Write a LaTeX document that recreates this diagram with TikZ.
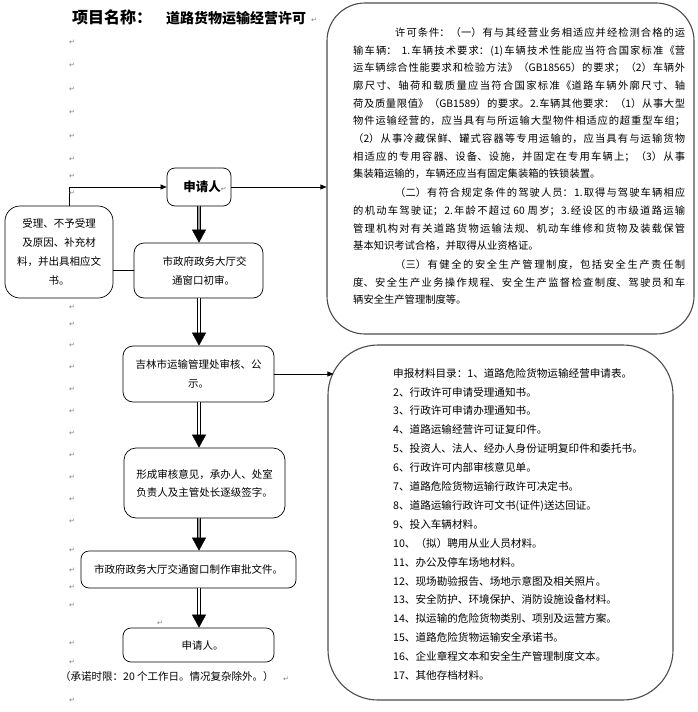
\documentclass[tikz,border=0pt]{standalone}
\usepackage{fontspec}
\usetikzlibrary{arrows.meta,calc}
\newfontfamily\cjk{Noto Sans CJK SC}
\newfontfamily\symf{DejaVu Sans}
\XeTeXlinebreaklocale "zh"
\XeTeXlinebreakskip=0pt plus 3pt
\begin{document}
\begin{tikzpicture}[x=1pt,y=-1pt,
  box/.style={draw=black, line width=0.7pt, rounded corners=8pt, align=center,
    font=\cjk\fontsize{10.5}{19}\selectfont, inner sep=0pt},
  bigbox/.style={draw=black!70, line width=1.1pt, inner sep=0pt},
  arr/.style={line width=0.6pt, -{Triangle[length=6pt,width=5pt]}},
  plainline/.style={line width=0.6pt},
  shaft/.style={draw=black, line width=0.9pt, double=white, double distance=2.8pt},
  grayshaft/.style={shaft, double=black!40},
  bighead/.style={line width=0.4pt, fill=black, -{Triangle[length=13pt,width=14pt]}},
  pm/.style={font=\symf\fontsize{7}{7}\selectfont, text=black!50, inner sep=0pt}]
\fill[white] (0,0) rectangle (697,712);
\useasboundingbox (0,0) rectangle (697,712);
\coordinate (colx) at (199,0);

% title
\node[anchor=west, inner sep=0pt, font=\cjk\bfseries\fontsize{16}{16}\selectfont] (t1) at (72,17) {项目名称：};
\node[anchor=west, inner sep=0pt, font=\cjk\bfseries\fontsize{14}{14}\selectfont] (t2) at (166,18) {道路货物运输经营许可};
\node[pm] (pmt) at (314,20) {↵};

% big boxes
\node[bigbox, rounded corners=38pt, minimum width=367pt, minimum height=331pt] (top) at (510.5,168.5) {};
\node[bigbox, rounded corners=50pt, minimum width=345pt, minimum height=355pt] (low) at (500.5,522.5) {};

\node[anchor=north west, inner sep=0pt, text width=332pt, align=justify,
      font=\cjk\fontsize{10.3}{17.7}\selectfont] (toptext) at (353,27.3) {\setlength{\parskip}{1pt}%
\hspace*{42pt}许可条件：（一）有与其经营业务相适应并经检测合格的运\linebreak
输车辆：\hspace{5pt}1.车辆技术要求：(1)车辆技术性能应当符合国家标准《营\linebreak
运车辆综合性能要求和检验方法》（GB18565）的要求；（2）车辆外\linebreak
廓尺寸、轴荷和载质量应当符合国家标准《道路车辆外廓尺寸、轴\linebreak
荷及质量限值》（GB1589）的要求。2.车辆其他要求：（1）从事大型\linebreak
物件运输经营的，应当具有与所运输大型物件相适应的超重型车组；\linebreak
（2）从事冷藏保鲜、罐式容器等专用运输的，应当具有与运输货物\linebreak
相适应的专用容器、设备、设施，并固定在专用车辆上；（3）从事\linebreak
集装箱运输的，车辆还应当有固定集装箱的铁锁装置。\par
\hspace*{42pt}（二）有符合规定条件的驾驶人员：1.取得与驾驶车辆相应\linebreak
的机动车驾驶证；2.年龄不超过 60 周岁；3.经设区的市级道路运输\linebreak
管理机构对有关道路货物运输法规、机动车维修和货物及装载保管\linebreak
基本知识考试合格，并取得从业资格证。\par
\hspace*{42pt}（三）有健全的安全生产管理制度，包括安全生产责任制\linebreak
度、安全生产业务操作规程、安全生产监督检查制度、驾驶员和车\linebreak
辆安全生产管理制度等。};

\node[anchor=north west, inner sep=0pt, align=left,
      font=\cjk\fontsize{10.6}{18.9}\selectfont] (list) at (393,368) {%
申报材料目录：1、道路危险货物运输经营申请表。\\
2、行政许可申请受理通知书。\\
3、行政许可申请办理通知书。\\
4、道路运输经营许可证复印件。\\
5、投资人、法人、经办人身份证明复印件和委托书。\\
6、行政许可内部审核意见单。\\
7、道路危险货物运输行政许可决定书。\\
8、道路运输行政许可文书(证件)送达回证。\\
9、投入车辆材料。\\
10、（拟）聘用从业人员材料。\\
11、办公及停车场地材料。\\
12、现场勘验报告、场地示意图及相关照片。\\
13、安全防护、环境保护、消防设施设备材料。\\
14、拟运输的危险货物类别、项别及运营方案。\\
15、道路危险货物运输安全承诺书。\\
16、企业章程文本和安全生产管理制度文本。\\
17、其他存档材料。};

% flow boxes
\node[box, minimum width=64pt, minimum height=38pt] (s1) at (199,187)
  {\hspace*{12pt}{\bfseries\fontsize{12.5}{14}\selectfont 申请人}{\symf\fontsize{7}{7}\selectfont\color{black!50}↵}};
\node[box, rounded corners=15pt, minimum width=108pt, minimum height=92pt] (lb) at (59,252)
  {受理、不予受理\\及原因、补充材\\料，并出具相应文\\书。};
\node[box, rounded corners=10pt, minimum width=129pt, minimum height=55pt] (cs) at (198.5,270.5)
  {\hspace*{12pt}市政府政务大厅交\\\hspace*{10pt}通窗口初审。};
\node[box, rounded corners=10pt, minimum width=151pt, minimum height=56pt] (jl) at (198.5,374)
  {吉林市运输管理处审核、公\\示。};
\node[box, rounded corners=12pt, minimum width=161pt, minimum height=70pt, font=\cjk\fontsize{10.5}{18}\selectfont] (xc) at (204.5,483)
  {形成审核意见，承办人、处室\\负责人及主管处长逐级签字。};
\node[box, rounded corners=8pt, minimum width=215pt, minimum height=37pt] (zz) at (188.5,569.5)
  {市政府政务大厅交通窗口制作审批文件。};
\node[box, rounded corners=8pt, minimum width=151pt, minimum height=34pt] (s2) at (198.5,645)
  {\hspace*{8pt}申请人。};

\node[anchor=west, inner sep=0pt, font=\cjk\fontsize{10.5}{12}\selectfont] (foot) at (60,677)
  {（承诺时限：20 个工作日。情况复杂除外。）};
\node[pm] (pmf) at (286,679) {↵};

% connectors
\draw[arr] ([xshift=10pt]lb.north) |- (s1.west);
\draw[arr] (s1.east) -- (s1.east -| top.west);
\draw[plainline] (cs.west -| lb.east) -- (cs.west);
\draw[arr] (jl.east) -- ($(jl.east -| low.west)+(6,0)$);

\draw[grayshaft] (s1.south -| colx) -- ($(cs.north -| colx)+(0,-11)$);
\draw[bighead] ($(cs.north -| colx)+(0,-13)$) -- (cs.north -| colx);
\draw[shaft] (cs.south -| colx) -- ($(jl.north -| colx)+(0,-11)$);
\draw[bighead] ($(jl.north -| colx)+(0,-13)$) -- (jl.north -| colx);
\draw[shaft] (jl.south -| colx) -- ($(xc.north -| colx)+(0,-11)$);
\draw[bighead] ($(xc.north -| colx)+(0,-13)$) -- (xc.north -| colx);
\draw[grayshaft] (xc.south -| colx) -- ($(zz.north -| colx)+(0,-11)$);
\draw[bighead] ($(zz.north -| colx)+(0,-13)$) -- (zz.north -| colx);
\draw[shaft] (zz.south -| colx) -- ($(s2.north -| colx)+(0,-11)$);
\draw[bighead] ($(s2.north -| colx)+(0,-13)$) -- (s2.north -| colx);

% paragraph marks
\foreach \yy [count=\i] in {42,65,89,112,136,159,176,193,307,324,345,367,389,411,433,455,477,499,521,550,570,587,605,643,662,700}
  \node[pm] (pmL\i) at (72,\yy) {↵};
\node[pm] (pmm) at (160,623) {↵};
\end{tikzpicture}
\end{document}
